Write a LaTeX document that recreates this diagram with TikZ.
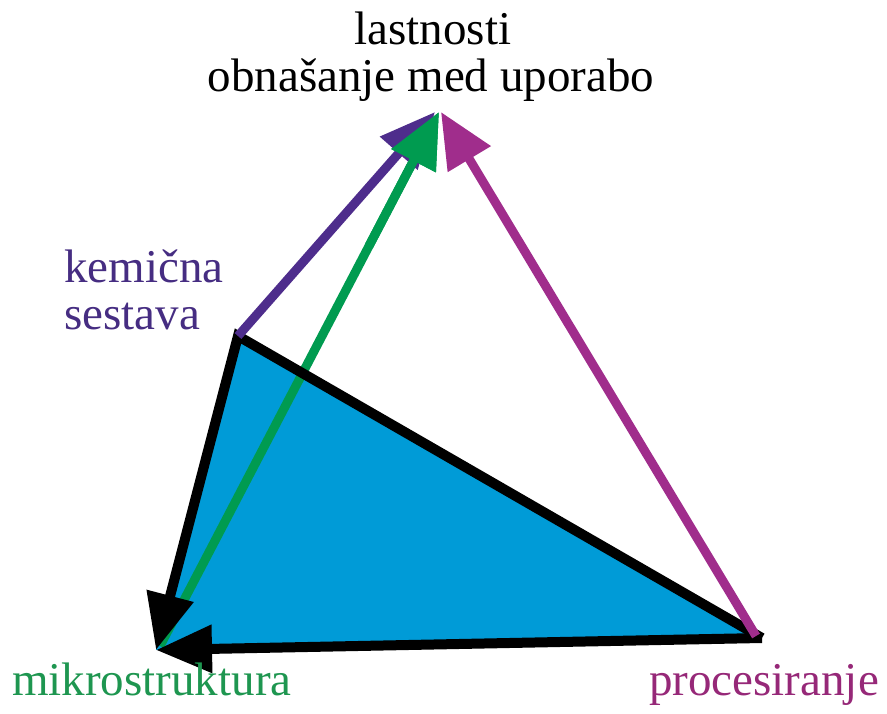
\documentclass[tikz,border=0pt]{standalone}
\usepackage{fontspec}
\setmainfont{Liberation Serif}
\usetikzlibrary{arrows.meta,calc}
\definecolor{fillblue}{RGB}{0,155,215}
\definecolor{indigo}{RGB}{78,45,140}
\definecolor{grn}{RGB}{0,155,80}
\definecolor{mag}{RGB}{160,45,140}
\definecolor{txtindigo}{RGB}{70,45,130}
\definecolor{txtgreen}{RGB}{30,150,80}
\definecolor{txtmag}{RGB}{150,40,120}
\begin{document}
\begin{tikzpicture}[x=1pt,y=-1pt,
  lbl/.style={font=\fontsize{47}{47}\selectfont, inner sep=0pt},
  blk/.style={draw=black, line width=10pt},
  carrow/.style={line width=9pt, -{Triangle[length=55pt,width=48pt]}},
  barrow/.style={-{Triangle[length=56pt,width=46pt]}}]
\useasboundingbox (0,0) rectangle (887,714);
\fill[white] (0,0) rectangle (887,714);
% vertices
\coordinate (L) at (439,112);
\coordinate (K) at (238,336);
\coordinate (M) at (156,650);
\coordinate (P) at (762,638);
\coordinate (Pm) at (756,636);
\coordinate (Mg) at (160,646);
\coordinate (Gh) at ($(Mg)!0.75!(L)$);
% blue face
\fill[fillblue] (K) -- (P) -- (M) -- cycle;
% green arrow (through face)
\draw[carrow, draw=grn, fill=grn] (Mg) -- (L);
% black edges
\draw[blk, barrow] (P) -- (K) -- (M);
\draw[blk, barrow] (P) -- (M);
% purple arrow
\draw[carrow, draw=indigo, fill=indigo] (K) -- ([xshift=-4pt]L);
% green arrow head on top
\draw[carrow, draw=grn, fill=grn] (Gh) -- (L);
% magenta arrow
\draw[carrow, draw=mag, fill=mag] (Pm) -- ([xshift=2pt]L);
% labels
\node[lbl, anchor=base] (lt1) at (433,45) {lastnosti};
\node[lbl, anchor=base] (lt2) at (431,92) {obnašanje med uporabo};
\node[lbl, anchor=base west, text=txtindigo] (k1) at (64,283) {kemična};
\node[lbl, anchor=base west, text=txtindigo] (k2) at (64,330) {sestava};
\node[lbl, anchor=base west, text=txtgreen] (m1) at (12,695) {mikrostruktura};
\node[lbl, anchor=base west, text=txtmag] (p1) at (649,695) {procesiranje};
\end{tikzpicture}
\end{document}
